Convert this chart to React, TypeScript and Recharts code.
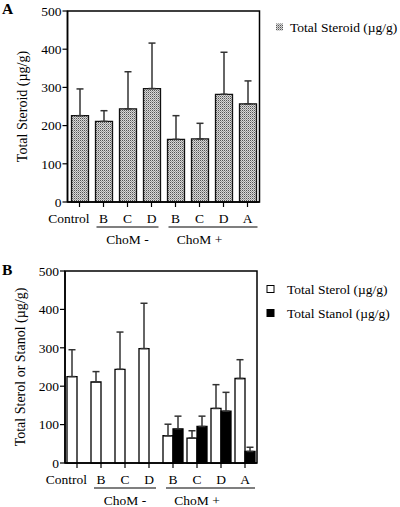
import { BarChart, Bar, XAxis, YAxis, ErrorBar, ReferenceArea, Legend, Label } from 'recharts';

const categories = ['Control', 'B', 'C', 'D', 'B', 'C', 'D', 'A'];
const steroidMean = [226, 211, 244, 297, 164, 165, 282, 257];
const steroidSd = [70, 28, 97, 119, 62, 41, 110, 60];
const sterolMean = [225, 211, 244, 298, 71, 65, 142, 220];
const sterolSd = [70, 27, 97, 118, 30, 19, 62, 49];
const stanolMean = [null, null, null, null, 89, 95, 135, 30];
const stanolSd = [null, null, null, null, 33, 27, 49, 11];
const yTicks = [0, 100, 200, 300, 400, 500];
const groupLabels = ['ChoM -', 'ChoM +'];
const groupStart = [1, 4];
const groupSize = [3, 4];
const seriesNames = ['Total Steroid (µg/g)', 'Total Sterol (µg/g)', 'Total Stanol (µg/g)'];

const dataA = categories.map((name, i) => ({
  name,
  steroid: steroidMean[i],
  steroidErr: [0, steroidSd[i]],
}));

const dataB = categories.map((name, i) => ({
  name,
  sterol: sterolMean[i],
  sterolErr: [0, sterolSd[i]],
  stanol: stanolMean[i],
  stanolErr: stanolSd[i] == null ? null : [0, stanolSd[i]],
}));

const FONT = '"Liberation Serif", "Times New Roman", serif';
const BAND = 24;

const XTick = (props: any) => {
  const { x, y, payload } = props;
  const i = payload.index;
  const g = groupStart.indexOf(i);
  const first = i === 0;
  return (
    <g>
      <text
        x={first ? x + 10 : x}
        y={y + 11}
        textAnchor={first ? 'end' : 'middle'}
        dominantBaseline="central"
        fontFamily={FONT}
        fontSize={13.5}
        fill="#000"
      >
        {payload.value}
      </text>
      {g >= 0 && (
        <g>
          <line
            x1={x - 7}
            x2={x + (groupSize[g] - 1) * BAND + (g === groupLabels.length - 1 ? 10 : 7)}
            y1={y + 20}
            y2={y + 20}
            stroke="#000"
            strokeWidth={1.2}
          />
          <text
            x={x + BAND}
            y={y + 32.5}
            textAnchor="middle"
            dominantBaseline="central"
            fontFamily={FONT}
            fontSize={13.5}
            fill="#000"
          >
            {groupLabels[g]}
          </text>
        </g>
      )}
    </g>
  );
};

const yTitle = (text: string) => (p: any) => {
  const vb = p.viewBox;
  const cx = vb.x + vb.width - 45;
  const cy = vb.y + vb.height / 2;
  return (
    <text
      x={cx}
      y={cy}
      transform={`rotate(-90 ${cx} ${cy})`}
      textAnchor="middle"
      dominantBaseline="central"
      fontFamily={FONT}
      fontSize={14}
      fill="#000"
    >
      {text}
    </text>
  );
};

const swatchStyles: Record<string, { fill: string; stroke: string }> = {
  [seriesNames[0]]: { fill: 'url(#stipple)', stroke: 'none' },
  [seriesNames[1]]: { fill: '#fff', stroke: '#000' },
  [seriesNames[2]]: { fill: '#000', stroke: '#000' },
};

const makeLegend = (boxX: number, textX: number) => (props: any) => {
  const items = [...(props.payload || [])].sort(
    (a: any, b: any) => seriesNames.indexOf(a.value) - seriesNames.indexOf(b.value)
  );
  return (
    <svg width={138} height={items.length * 24}>
      {items.map((item: any, k: number) => {
        const s = swatchStyles[item.value];
        const cy = 12 + k * 24;
        return (
          <g key={k}>
            <rect x={boxX} y={cy - 3.5} width={7} height={7} fill={s.fill} stroke={s.stroke} strokeWidth={1} />
            <text x={textX} y={cy} dominantBaseline="central" fontFamily={FONT} fontSize={13.5} fill="#000">
              {item.value}
            </text>
          </g>
        );
      })}
    </svg>
  );
};

const axisProps = {
  stroke: '#000',
  strokeWidth: 1.5,
};

const PanelLetter = ({ letter, top }: { letter: string; top: number }) => (
  <svg style={{ position: 'absolute', left: 0, top }} width={20} height={20}>
    <text x={2} y={14} fontFamily={FONT} fontWeight="bold" fontSize={15.5} fill="#000">
      {letter}
    </text>
  </svg>
);

export default function App() {
  return (
    <div style={{ position: 'absolute', left: 0, top: 0, width: 400, height: 507, background: '#fff' }}>
      <PanelLetter letter="A" top={0} />
      <div style={{ position: 'absolute', left: 0, top: 0 }}>
        <BarChart
          width={400}
          height={250}
          data={dataA}
          margin={{ top: 11, right: 140.5, bottom: 0, left: 27.5 }}
          barSize={17}
        >
          <defs>
            <pattern id="stipple" patternUnits="userSpaceOnUse" width={2} height={2}>
              <rect width={2} height={2} fill="#d8d8d8" />
              <rect width={1} height={1} fill="#555" />
              <rect x={1} y={1} width={1} height={1} fill="#9a9a9a" />
            </pattern>
          </defs>
          <XAxis
            dataKey="name"
            interval={0}
            height={48}
            tickSize={5}
            tickMargin={0}
            tick={<XTick />}
            axisLine={axisProps}
            tickLine={{ stroke: '#000', strokeWidth: 1.2 }}
          />
          <YAxis
            domain={[0, 500]}
            ticks={yTicks}
            width={40}
            tickSize={5}
            tickMargin={1}
            tick={{ fontFamily: FONT, fontSize: 13.5, fill: '#000' }}
            axisLine={axisProps}
            tickLine={{ stroke: '#000', strokeWidth: 1.2 }}
          >
            <Label content={yTitle(seriesNames[0])} />
          </YAxis>
          <ReferenceArea y1={0} y2={500} fill="none" stroke="#000" strokeWidth={1.5} />
          <Legend
            layout="horizontal"
            verticalAlign="middle"
            align="center"
            wrapperStyle={{ left: 262, top: 15, width: 138 }}
            content={makeLegend(14, 28)}
          />
          <Bar dataKey="steroid" name={seriesNames[0]} fill="url(#stipple)" stroke="#111" strokeWidth={1.3} isAnimationActive={false}>
            <ErrorBar dataKey="steroidErr" direction="y" width={3.5} stroke="#333" strokeWidth={1.5} isAnimationActive={false} />
          </Bar>
        </BarChart>
      </div>
      <PanelLetter letter="B" top={261} />
      <div style={{ position: 'absolute', left: 0, top: 260 }}>
        <BarChart
          width={400}
          height={247}
          data={dataB}
          margin={{ top: 11, right: 143, bottom: 0, left: 25 }}
          barSize={10}
          barGap={0}
        >
          <XAxis
            dataKey="name"
            interval={0}
            height={44}
            tickSize={5}
            tickMargin={0}
            tick={<XTick />}
            axisLine={axisProps}
            tickLine={{ stroke: '#000', strokeWidth: 1.2 }}
          />
          <YAxis
            domain={[0, 500]}
            ticks={yTicks}
            width={40}
            tickSize={5}
            tickMargin={1}
            tick={{ fontFamily: FONT, fontSize: 13.5, fill: '#000' }}
            axisLine={axisProps}
            tickLine={{ stroke: '#000', strokeWidth: 1.2 }}
          >
            <Label content={yTitle('Total Sterol or Stanol (µg/g)')} />
          </YAxis>
          <ReferenceArea y1={0} y2={500} fill="none" stroke="#000" strokeWidth={1.5} />
          <Legend
            layout="horizontal"
            verticalAlign="middle"
            align="center"
            wrapperStyle={{ left: 260, top: 17, width: 140 }}
            content={makeLegend(7, 27)}
          />
          <Bar dataKey="sterol" name={seriesNames[1]} fill="#fff" stroke="#000" strokeWidth={1.3} isAnimationActive={false}>
            <ErrorBar dataKey="sterolErr" direction="y" width={3.5} stroke="#333" strokeWidth={1.5} isAnimationActive={false} />
          </Bar>
          <Bar dataKey="stanol" name={seriesNames[2]} fill="#000" stroke="#000" strokeWidth={1.3} isAnimationActive={false}>
            <ErrorBar dataKey="stanolErr" direction="y" width={3.5} stroke="#333" strokeWidth={1.5} isAnimationActive={false} />
          </Bar>
        </BarChart>
      </div>
    </div>
  );
}
